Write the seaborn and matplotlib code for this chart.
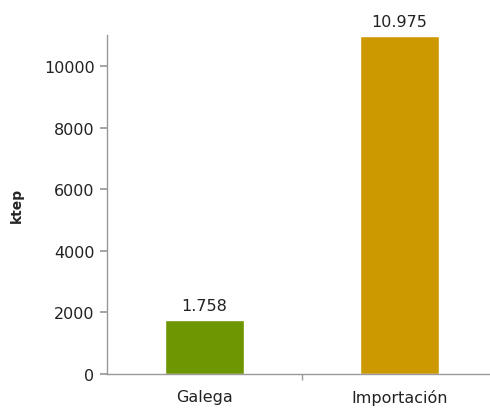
import matplotlib
matplotlib.use("Agg")
import matplotlib.pyplot as plt
import seaborn as sns
import pandas as pd
from matplotlib.ticker import FixedLocator

# Energy supply by origin (ktep)
categories = ["Galega", "Importación"]
values = [1758, 10975]
value_labels = ["1.758", "10.975"]
colors = ["#6E9600", "#CC9900"]
yticks = [0, 2000, 4000, 6000, 8000, 10000]

sns.set_theme(style="white")
plt.rcParams["font.family"] = ["DejaVu Sans"]

df = pd.DataFrame({"origen": categories, "ktep": values})

fig = plt.figure(figsize=(4.9, 4.1), dpi=100)
ax = fig.add_axes([0.2184, 0.0854, 0.795, 0.8266])

sns.barplot(data=df, x="origen", y="ktep", hue="origen", palette=colors,
            width=0.405, legend=False, ax=ax, saturation=1)

for patch, lab in zip(ax.patches, value_labels):
    ax.annotate(lab, (patch.get_x() + patch.get_width() / 2, patch.get_height()),
                xytext=(0, 5), textcoords="offset points",
                ha="center", va="bottom", fontsize=11.5, color="#222222")

ax.set_xlim(-0.5, 1.5)
ax.set_ylim(0, 11000)
ax.set_yticks(yticks)
ax.set_yticklabels([str(t) for t in yticks], fontsize=11.5, color="#222222")
ax.tick_params(axis="x", which="major", length=0, labelsize=11.5,
               labelcolor="#222222", pad=11)
ax.xaxis.set_minor_locator(FixedLocator([0.5]))
ax.tick_params(axis="x", which="minor", length=4, color="#999999",
               direction="out", bottom=True)
ax.tick_params(axis="y", length=5, color="#999999", direction="out",
               left=True, pad=4)

ax.set_xlabel("")
ax.set_ylabel("ktep", fontsize=10, fontweight="bold", labelpad=14)

for side in ["top", "right"]:
    ax.spines[side].set_visible(False)
for side in ["left", "bottom"]:
    ax.spines[side].set_color("#999999")
    ax.spines[side].set_linewidth(1.0)

fig.savefig("out.png", dpi=100)
